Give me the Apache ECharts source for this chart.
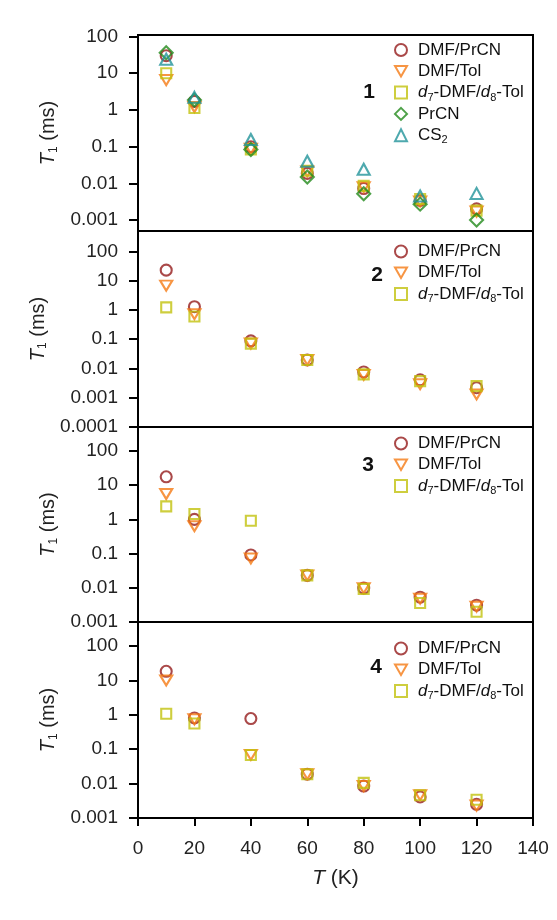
<!DOCTYPE html>
<html>
<head>
<meta charset="utf-8">
<script src="https://cdn.jsdelivr.net/npm/echarts@6/dist/echarts.min.js"></script>
<style>html,body{margin:0;padding:0;background:#fff}</style>
</head>
<body>
<div id="main" style="width:557px;height:920px"></div>
<script>
// temperatures (K) shared by every panel
var temps = [10, 20, 40, 60, 80, 100, 120];

// panel 1
var p1_dmfPrcn = [30, 1.7, 0.099, 0.0186, 0.0072, 0.0034, 0.0020];
var p1_dmfTol  = [6.5, 1.2, 0.087, 0.021, 0.0078, 0.0032, 0.0017];
var p1_d7d8    = [10, 1.13, 0.083, 0.022, 0.0085, 0.0037, 0.0018];
var p1_prcn    = [36, 1.86, 0.083, 0.0148, 0.0052, 0.0027, 0.0010];
var p1_cs2     = [24, 2.2, 0.156, 0.040, 0.024, 0.0045, 0.0053];
// panel 2
var p2_dmfPrcn = [23, 1.29, 0.088, 0.0196, 0.0076, 0.0041, 0.0022];
var p2_dmfTol  = [6.8, 0.72, 0.071, 0.0196, 0.0060, 0.0029, 0.0013];
var p2_d7d8    = [1.23, 0.60, 0.071, 0.0196, 0.0063, 0.0037, 0.0025];
// panel 3
var p3_dmfPrcn = [17.5, 1.0, 0.091, 0.023, 0.0098, 0.0053, 0.0031];
var p3_dmfTol  = [5.5, 0.63, 0.072, 0.023, 0.0098, 0.0048, 0.0028];
var p3_d7d8    = [2.4, 1.43, 0.91, 0.023, 0.0092, 0.0036, 0.0020];
// panel 4
var p4_dmfPrcn = [18.4, 0.81, 0.78, 0.0188, 0.0085, 0.0041, 0.0025];
var p4_dmfTol  = [10, 0.74, 0.068, 0.0188, 0.0085, 0.0046, 0.0023];
var p4_d7d8    = [1.07, 0.56, 0.068, 0.0188, 0.0105, 0.0046, 0.0034];

var xTicks = [0, 20, 40, 60, 80, 100, 120, 140];
var yTicks = [0.001, 0.01, 0.1, 1, 10, 100];
var yTicks2 = [0.0001, 0.001, 0.01, 0.1, 1, 10, 100];

var FONT = 'Liberation Sans, Arial, sans-serif';
var styles = {
  'DMF/PrCN':      {symbol: 'circle', size: 11, color: '#951c1c'},
  'DMF/Tol':       {symbol: 'path://M0,0L10,0L5,8.66Z', size: [12, 10], color: '#f57a14'},
  'd7-DMF/d8-Tol': {symbol: 'rect', size: 10, color: '#c2c20e'},
  'PrCN':          {symbol: 'diamond', size: 13, color: '#228a1a'},
  'CS2':           {symbol: 'triangle', size: [12, 11], color: '#22939a'}
};

var grids = [
  {top: 35, height: 196, min: 0.0005, max: 110, ticks: yTicks},
  {top: 231, height: 196, min: 0.0001, max: 500, ticks: yTicks2},
  {top: 427, height: 195, min: 0.001, max: 500, ticks: yTicks},
  {top: 622, height: 196, min: 0.001, max: 500, ticks: yTicks}
];

var panels = [
  {'DMF/PrCN': p1_dmfPrcn, 'DMF/Tol': p1_dmfTol, 'd7-DMF/d8-Tol': p1_d7d8, 'PrCN': p1_prcn, 'CS2': p1_cs2},
  {'DMF/PrCN': p2_dmfPrcn, 'DMF/Tol': p2_dmfTol, 'd7-DMF/d8-Tol': p2_d7d8},
  {'DMF/PrCN': p3_dmfPrcn, 'DMF/Tol': p3_dmfTol, 'd7-DMF/d8-Tol': p3_d7d8},
  {'DMF/PrCN': p4_dmfPrcn, 'DMF/Tol': p4_dmfTol, 'd7-DMF/d8-Tol': p4_d7d8}
];

var richText = {
  i: {fontStyle: 'italic', fontSize: 17, fontFamily: FONT, color: '#111', lineHeight: 21},
  s: {fontSize: 11, fontFamily: FONT, color: '#111', lineHeight: 12, verticalAlign: 'bottom', padding: [8, 0, 0, 0]}
};
function legendLabel(name) {
  if (name === 'd7-DMF/d8-Tol') return '{i|d}{s|7}-DMF/{i|d}{s|8}-Tol';
  if (name === 'CS2') return 'CS{s|2}';
  return name;
}

var legendTops = [34.5, 236, 428, 633];
var numPos = [[369, 92, '1'], [377, 275, '2'], [368, 465, '3'], [376, 667, '4']];

var option = {
  animation: false,
  backgroundColor: '#fff',
  grid: [], xAxis: [], yAxis: [], series: [], legend: [], graphic: []
};

grids.forEach(function (g, k) {
  var last = k === grids.length - 1;
  option.grid.push({left: 138, right: 24, top: g.top, height: g.height,
    show: true, borderColor: '#000', borderWidth: 2});
  option.xAxis.push({
    type: 'value', gridIndex: k, min: 0, max: 140, interval: 20,
    axisLine: {show: true, lineStyle: {color: '#000', width: 2}},
    axisTick: {show: last, length: 8, lineStyle: {color: '#000', width: 2}},
    axisLabel: {show: last, fontSize: 19, fontFamily: FONT, color: '#222', margin: 21},
    splitLine: {show: false},
    name: last ? '{i|T} (K)' : '', nameLocation: 'middle', nameGap: 50,
    nameTextStyle: {fontSize: 21, fontFamily: FONT, color: '#222',
      rich: {i: {fontStyle: 'italic', fontSize: 21, fontFamily: FONT, color: '#222'}}}
  });
  option.yAxis.push({
    type: 'log', gridIndex: k, min: g.min, max: g.max,
    axisLine: {show: true, lineStyle: {color: '#000', width: 2}},
    axisTick: {show: true, length: 9, customValues: g.ticks, lineStyle: {color: '#000', width: 2}},
    axisLabel: {fontSize: 19, fontFamily: FONT, color: '#222', margin: 20, customValues: g.ticks,
      formatter: function (v) { return String(+(+v).toPrecision(4)); }},
    splitLine: {show: false},
    name: '{i|T}{s|1} (ms)', nameLocation: 'middle', nameGap: 76,
    nameTextStyle: {fontSize: 20, fontFamily: FONT, color: '#222', lineHeight: 22,
      rich: {
        i: {fontStyle: 'italic', fontSize: 20, fontFamily: FONT, color: '#222', lineHeight: 22},
        s: {fontSize: 12, fontFamily: FONT, color: '#222', lineHeight: 12, verticalAlign: 'bottom', padding: [8, 0, 0, 0]}
      }}
  });
  var names = Object.keys(panels[k]);
  names.forEach(function (name) {
    var st = styles[name];
    option.series.push({
      type: 'scatter', name: name, xAxisIndex: k, yAxisIndex: k,
      symbol: st.symbol, symbolSize: st.size,
      itemStyle: {color: 'rgba(0,0,0,0)', borderColor: st.color, borderWidth: 2.1},
      data: temps.map(function (t, i) { return [t, panels[k][name][i]]; })
    });
  });
  option.legend.push({
    data: names, orient: 'vertical', left: 389, top: legendTops[k],
    itemWidth: 12, itemHeight: 12, itemGap: 0.3, selectedMode: false,
    formatter: legendLabel,
    textStyle: {fontSize: 17, fontFamily: FONT, color: '#111', lineHeight: 21, padding: [0, 0, 0, 6], rich: richText}
  });
  option.graphic.push({
    type: 'text', x: numPos[k][0], y: numPos[k][1],
    style: {text: numPos[k][2], font: 'bold 21px ' + FONT, fill: '#111', align: 'center', verticalAlign: 'middle'}
  });
});

var myChart = echarts.init(document.getElementById('main'));
myChart.setOption(option);
</script>
</body>
</html>
